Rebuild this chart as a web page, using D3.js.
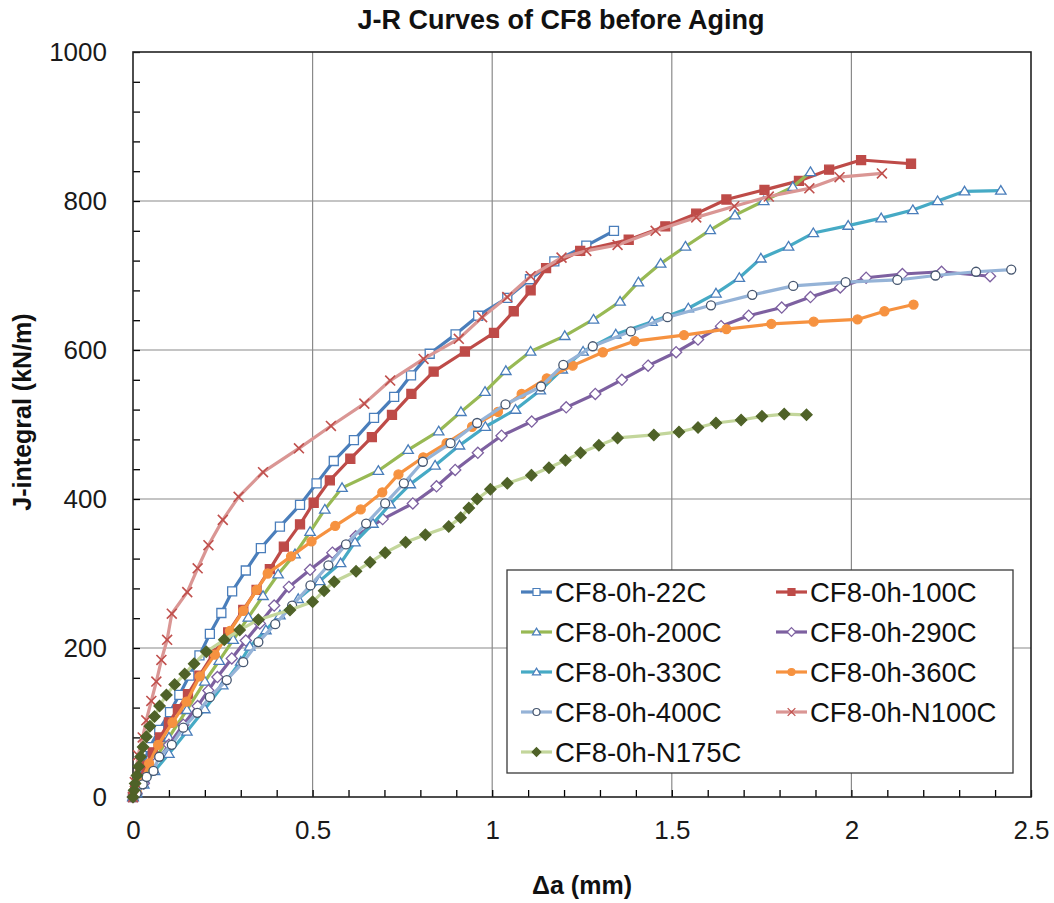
<!DOCTYPE html>
<html>
<head>
<meta charset="utf-8">
<script src="https://cdn.jsdelivr.net/npm/d3@7"></script>
<style>
  body { margin: 0; background: #fff; }
  svg { display: block; font-family: "Liberation Sans", Arial, sans-serif; }
</style>
</head>
<body>
<svg id="chart" width="1054" height="903"></svg>
<script>
// Axis ticks
const xTicks = [0, 0.5, 1, 1.5, 2, 2.5];
const yTicks = [0, 200, 400, 600, 800, 1000];

// J-R data: [crack extension Δa (mm), J-integral (kN/m)]
const cf22C = [[0,0],[0.006,11],[0.024,40],[0.047,67],[0.073,90],[0.103,114],[0.129,137],[0.157,163],[0.185,190],[0.214,219],[0.246,247],[0.276,276],[0.314,304],[0.356,334],[0.409,363],[0.465,392],[0.511,421],[0.559,451],[0.615,479],[0.671,509],[0.727,537],[0.774,566],[0.826,595],[0.898,621],[0.961,646],[1.042,670],[1.105,695],[1.173,719],[1.262,740],[1.339,760]];
const cf100C = [[0,0],[0.008,10],[0.02,25],[0.035,42],[0.055,60],[0.075,80],[0.1,100],[0.125,118],[0.153,138],[0.185,163],[0.225,193],[0.265,221],[0.307,251],[0.344,278],[0.381,306],[0.42,336],[0.465,366],[0.503,395],[0.548,425],[0.605,454],[0.665,483],[0.721,513],[0.775,541],[0.837,571],[0.924,598],[1.005,623],[1.06,652],[1.107,680],[1.15,710],[1.245,733],[1.38,748],[1.482,766],[1.568,783],[1.652,802],[1.758,815],[1.854,827],[1.938,842],[2.027,855],[2.166,850]];
const cf200C = [[0,0],[0.01,8],[0.03,25],[0.06,50],[0.1,80],[0.15,117],[0.2,155],[0.24,183],[0.279,211],[0.321,241],[0.362,270],[0.404,299],[0.451,326],[0.493,356],[0.534,386],[0.582,415],[0.683,438],[0.766,466],[0.851,491],[0.913,517],[0.98,544],[1.038,572],[1.107,598],[1.202,619],[1.282,641],[1.356,665],[1.407,691],[1.469,716],[1.538,739],[1.607,761],[1.676,781],[1.756,800],[1.837,819],[1.886,839]];
const cf290C = [[0,0],[0.01,5],[0.03,18],[0.066,47],[0.1,70],[0.14,97],[0.18,122],[0.21,143],[0.235,161],[0.275,186],[0.314,210],[0.353,233],[0.393,257],[0.434,282],[0.493,305],[0.555,328],[0.62,350],[0.695,373],[0.779,394],[0.845,417],[0.897,439],[0.96,462],[1.026,485],[1.11,504],[1.206,523],[1.287,541],[1.361,560],[1.434,579],[1.512,597],[1.573,614],[1.637,632],[1.714,646],[1.806,657],[1.886,671],[1.969,684],[2.041,697],[2.142,702],[2.251,705],[2.386,699]];
const cf330C = [[0,0],[0.01,5],[0.03,17],[0.06,35],[0.1,58],[0.15,88],[0.2,118],[0.25,150],[0.3,182],[0.325,202],[0.37,224],[0.409,244],[0.46,266],[0.52,290],[0.578,314],[0.618,342],[0.668,367],[0.716,393],[0.772,420],[0.841,445],[0.909,472],[0.981,497],[1.065,520],[1.134,546],[1.195,574],[1.253,598],[1.344,621],[1.445,638],[1.546,656],[1.623,676],[1.688,697],[1.748,723],[1.825,739],[1.894,757],[1.991,767],[2.083,777],[2.171,788],[2.24,800],[2.315,813],[2.416,814]];
const cf360C = [[0,0],[0.01,8],[0.025,22],[0.045,45],[0.07,70],[0.11,100],[0.149,128],[0.186,162],[0.228,191],[0.27,223],[0.307,250],[0.344,278],[0.375,300],[0.44,323],[0.497,343],[0.563,364],[0.634,386],[0.694,409],[0.739,433],[0.808,456],[0.873,475],[0.944,497],[1.016,517],[1.082,541],[1.152,562],[1.224,579],[1.308,597],[1.397,612],[1.534,620],[1.652,628],[1.777,635],[1.895,638],[2.017,641],[2.092,652],[2.173,661]];
const cf400C = [[0,0],[0.01,5],[0.027,17],[0.038,27],[0.057,35],[0.073,54],[0.108,70],[0.14,93],[0.179,113],[0.214,134],[0.261,157],[0.307,181],[0.349,208],[0.396,232],[0.443,257],[0.494,284],[0.544,311],[0.593,339],[0.649,367],[0.702,394],[0.754,421],[0.807,450],[0.884,475],[0.958,502],[1.037,527],[1.136,551],[1.198,580],[1.28,605],[1.386,625],[1.488,644],[1.609,660],[1.724,674],[1.838,686],[1.984,691],[2.128,694],[2.234,700],[2.347,705],[2.445,708]];
const cfN100C = [[0,0],[0.005,20],[0.014,56],[0.027,80],[0.037,103],[0.051,129],[0.065,155],[0.079,184],[0.095,211],[0.108,246],[0.151,275],[0.18,307],[0.21,338],[0.25,372],[0.294,403],[0.362,436],[0.462,468],[0.551,498],[0.644,528],[0.716,559],[0.809,588],[0.907,615],[0.972,644],[1.042,671],[1.107,699],[1.193,724],[1.262,733],[1.349,741],[1.455,760],[1.568,778],[1.674,793],[1.77,806],[1.883,817],[1.967,832],[2.085,837]];
const cfN175C = [[0,0],[0.003,9],[0.006,18],[0.011,29],[0.016,41],[0.021,54],[0.028,67],[0.037,81],[0.047,95],[0.06,108],[0.074,122],[0.093,137],[0.116,151],[0.144,165],[0.17,179],[0.204,195],[0.254,211],[0.297,224],[0.349,238],[0.437,251],[0.5,262],[0.532,277],[0.56,289],[0.621,303],[0.66,315],[0.702,328],[0.759,342],[0.814,352],[0.879,363],[0.912,375],[0.935,388],[0.958,400],[0.995,413],[1.042,421],[1.109,432],[1.158,442],[1.204,452],[1.246,462],[1.297,472],[1.349,482],[1.45,486],[1.52,490],[1.573,496],[1.623,502],[1.693,506],[1.751,511],[1.813,514],[1.875,513]];

const seriesNames = ["CF8-0h-22C","CF8-0h-100C","CF8-0h-200C","CF8-0h-290C","CF8-0h-330C","CF8-0h-360C","CF8-0h-400C","CF8-0h-N100C","CF8-0h-N175C"];
const seriesData = [cf22C, cf100C, cf200C, cf290C, cf330C, cf360C, cf400C, cfN100C, cfN175C];

// Line colour and marker look for each series
const seriesStyle = [
  { line: "#4A7EBB", shape: "square",   fill: "#fff",    stroke: "#4A7EBB" },
  { line: "#BE4B48", shape: "square",   fill: "#BE4B48", stroke: "#BE4B48" },
  { line: "#98B954", shape: "triangle", fill: "#fff",    stroke: "#4A7EBB" },
  { line: "#7D60A0", shape: "diamond",  fill: "#fff",    stroke: "#7D60A0" },
  { line: "#46AAC5", shape: "triangle", fill: "#fff",    stroke: "#4A7EBB" },
  { line: "#F69240", shape: "circle",   fill: "#F69240", stroke: "#F69240" },
  { line: "#95B3D7", shape: "circle",   fill: "#fff",    stroke: "#46566F" },
  { line: "#DA9694", shape: "cross",    fill: "none",    stroke: "#C0504D" },
  { line: "#C3D69B", shape: "diamond",  fill: "#4F6228", stroke: "#4F6228" }
];

const W = 1054, H = 903;
const plot = { left: 133, top: 52, right: 1031, bottom: 797 };
const x = d3.scaleLinear().domain([0, 2.5]).range([plot.left, plot.right]);
const y = d3.scaleLinear().domain([0, 1000]).range([plot.bottom, plot.top]);

const svg = d3.select("#chart");
svg.append("rect").attr("width", W).attr("height", H).attr("fill", "#fff");

// Grid
const grid = svg.append("g").attr("stroke", "#8a8a8a").attr("stroke-width", 1.2);
grid.selectAll("line.v").data(xTicks.slice(1, -1)).join("line")
  .attr("x1", d => x(d)).attr("x2", d => x(d)).attr("y1", plot.top).attr("y2", plot.bottom);
grid.selectAll("line.h").data(yTicks.slice(1, -1)).join("line")
  .attr("y1", d => y(d)).attr("y2", d => y(d)).attr("x1", plot.left).attr("x2", plot.right);

// Minor tick marks (inside the plot)
const yMinor = d3.axisLeft(y).tickValues(d3.range(0, 1001, 40)).tickSize(-7).tickFormat("");
svg.append("g").attr("transform", `translate(${plot.left},0)`).call(yMinor)
  .call(g => g.select(".domain").remove())
  .selectAll("line").attr("stroke", "#000").attr("stroke-width", 1.3);
const xMinor = d3.axisBottom(x).tickValues(d3.range(0, 26).map(i => i / 10)).tickSize(-7).tickFormat("");
svg.append("g").attr("transform", `translate(0,${plot.bottom})`).call(xMinor)
  .call(g => g.select(".domain").remove())
  .selectAll("line").attr("stroke", "#000").attr("stroke-width", 1.3);

// Frame
svg.append("rect").attr("x", plot.left).attr("y", plot.top)
  .attr("width", plot.right - plot.left).attr("height", plot.bottom - plot.top)
  .attr("fill", "none").attr("stroke", "#222").attr("stroke-width", 1.6);

// Tick labels
const yAxis = d3.axisLeft(y).tickValues(yTicks).tickSize(0).tickPadding(26).tickFormat(d3.format("d"));
svg.append("g").attr("transform", `translate(${plot.left},0)`).call(yAxis)
  .call(g => g.select(".domain").remove())
  .selectAll("text").attr("font-size", 26).attr("fill", "#1a1a1a")
  .attr("font-family", "'Liberation Sans', Arial, sans-serif");
const xAxis = d3.axisBottom(x).tickValues(xTicks).tickSize(0).tickPadding(24).tickFormat(d => String(d));
svg.append("g").attr("transform", `translate(0,${plot.bottom})`).call(xAxis)
  .call(g => g.select(".domain").remove())
  .selectAll("text").attr("font-size", 26).attr("fill", "#1a1a1a")
  .attr("font-family", "'Liberation Sans', Arial, sans-serif");

// Marker paths
function markerPath(shape, s) {
  switch (shape) {
    case "square": return `M${-s/2},${-s/2}h${s}v${s}h${-s}Z`;
    case "triangle": { const h = s * 0.9; return `M0,${-h*0.62}L${s*0.58},${h*0.45}L${-s*0.58},${h*0.45}Z`; }
    case "diamond": { const r = s * 0.62; return `M0,${-r}L${r},0L0,${r}L${-r},0Z`; }
    case "circle": { const r = s / 2; return `M${r},0A${r},${r} 0 1,1 ${-r},0A${r},${r} 0 1,1 ${r},0Z`; }
    case "cross": { const r = s * 0.55; return `M${-r},${-r}L${r},${r}M${-r},${r}L${r},${-r}`; }
  }
}

const line = d3.line().x(d => x(d[0])).y(d => y(d[1]));

// Series lines and markers, drawn in order
seriesData.forEach((data, i) => {
  const st = seriesStyle[i];
  const g = svg.append("g");
  g.append("path").datum(data).attr("d", line)
    .attr("fill", "none").attr("stroke", st.line).attr("stroke-width", 3.2)
    .attr("stroke-linejoin", "round").attr("stroke-linecap", "round");
  g.selectAll("path.m").data(data).join("path").attr("class", "m")
    .attr("transform", d => `translate(${x(d[0])},${y(d[1])})`)
    .attr("d", markerPath(st.shape, 9))
    .attr("fill", st.fill).attr("stroke", st.stroke)
    .attr("stroke-width", st.shape === "cross" ? 1.6 : 1.3);
});

// Legend
const legend = svg.append("g");
legend.append("rect").attr("x", 507).attr("y", 570).attr("width", 506).attr("height", 203)
  .attr("fill", "#fff").attr("stroke", "#3a3a3a").attr("stroke-width", 1.3);
seriesNames.forEach((name, i) => {
  const col = i % 2, row = Math.floor(i / 2);
  const lx = col === 0 ? 521 : 776;
  const ly = 592 + row * 40;
  const st = seriesStyle[i];
  const item = legend.append("g");
  item.append("line").attr("x1", lx).attr("x2", lx + 31).attr("y1", ly).attr("y2", ly)
    .attr("stroke", st.line).attr("stroke-width", 3.2);
  item.append("path").attr("transform", `translate(${lx + 15.5},${ly})`)
    .attr("d", markerPath(st.shape, 7))
    .attr("fill", st.fill).attr("stroke", st.stroke).attr("stroke-width", 1.2);
  item.append("text").attr("x", lx + 34).attr("y", ly + 9.5)
    .attr("font-size", 27.5).attr("fill", "#111").text(name);
});

// Titles
svg.append("text").attr("x", 561).attr("y", 29).attr("text-anchor", "middle")
  .attr("font-size", 27).attr("font-weight", "bold").attr("fill", "#111")
  .text("J-R Curves of CF8 before Aging");
svg.append("text").attr("x", 582).attr("y", 894).attr("text-anchor", "middle")
  .attr("font-size", 25).attr("font-weight", "bold").attr("fill", "#111")
  .text("Δa (mm)");
svg.append("text").attr("transform", "translate(31,412) rotate(-90)").attr("text-anchor", "middle")
  .attr("font-size", 25).attr("font-weight", "bold").attr("fill", "#111")
  .text("J-integral (kN/m)");
</script>
</body>
</html>
